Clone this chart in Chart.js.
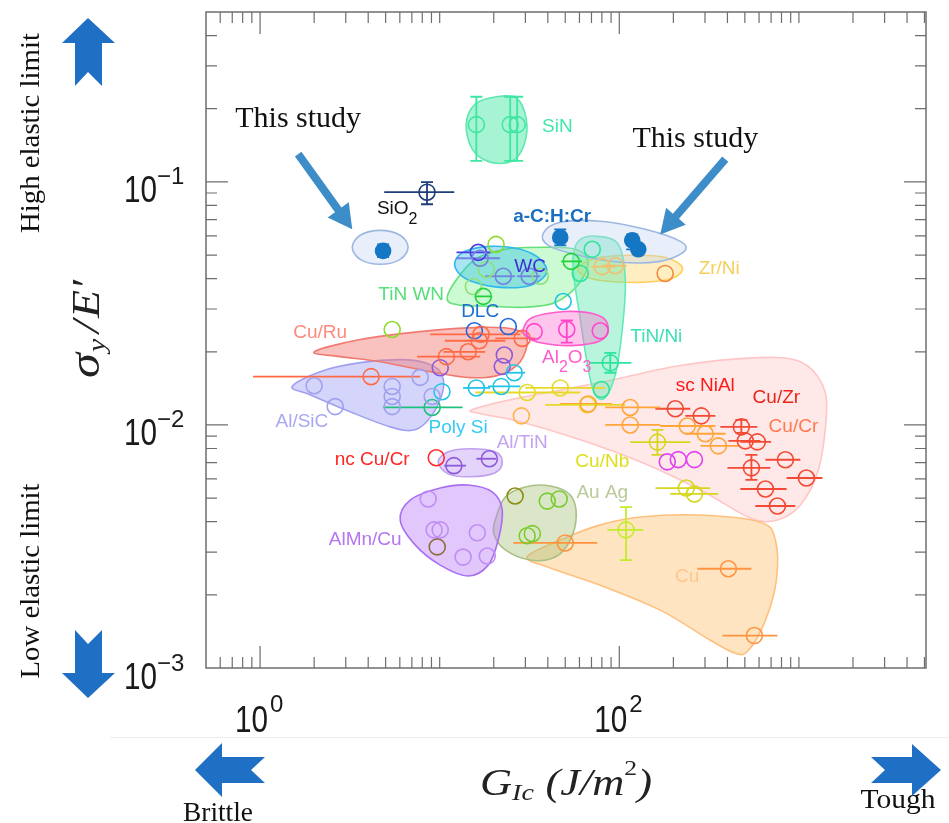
<!DOCTYPE html>
<html>
<head>
<meta charset="utf-8">
<script src="https://cdn.jsdelivr.net/npm/chart.js@4.4.1/dist/chart.umd.min.js"></script>
<style>
  html, body { margin: 0; padding: 0; background: #fff; }
  canvas { display: block; }
</style>
</head>
<body>
<canvas id="ashby" width="949" height="823"></canvas>
<script>
// rows: [G_Ic (J/m2), sigma_y/E', xLow, xHigh, yLow, yHigh]
const sio2 = [[8.5, 0.0907, 4.91, 12.05, 0.0809, 0.0997]];
const studyLeft = [[4.84, 0.052, null, null, 0.049, 0.0553]];
const studyRight = [[46.9, 0.0591, null, null, 0.0548, 0.0638], [118, 0.0575, null, null, 0.0528, 0.0608], [127.6, 0.0528]];
const siN = [[16.0, 0.172, null, null, 0.122, 0.224], [24.7, 0.172, null, null, 0.122, 0.224], [27.0, 0.172, null, null, 0.122, 0.224]];
const wc = [[16.8, 0.0485, 12.35, 21.7], [22.6, 0.0409, 17.9, 26.3], [31.5, 0.0409, 27.0, 36.3]];
const wcDark = [[16.4, 0.0513, 12.4, 19.1]];
const tinLime = [[20.6, 0.0553], [5.44, 0.0247]];
const tinGreen = [[17.5, 0.0338, 15.8, 19.3], [54.0, 0.0471, 47.5, 62.0]];
const tinLight = [[15.4, 0.0371], [18.2, 0.0436], [36.3, 0.0409]];
const zrNiOrange = [[180, 0.042]];
const zrNiTan = [[80.3, 0.0448, 70, 95], [95, 0.0452, 80, 110]];
const tinNi = [[70.7, 0.0528], [60.6, 0.042], [89.1, 0.018, 68.9, 116.7, 0.0164, 0.0198], [79.4, 0.014]];
const al2o3 = [[33.6, 0.0242], [51.0, 0.0247, null, null, 0.0218, 0.0269], [78.3, 0.0244]];
const cuRu = [[17.0, 0.0236, 8.85, 28.1], [16.6, 0.0222, 10.7, 23.2], [14.4, 0.0200, 10.5, 17.9], [10.9, 0.0191, 7.5, 16.8], [28.8, 0.0227, 20.4, 34.1], [4.15, 0.0158, 0.914, 7.79]];
const dlc = [[15.6, 0.0244], [24.1, 0.0254]];
const alSiC = [[2.0, 0.0145], [2.62, 0.0119], [5.44, 0.0144], [5.44, 0.0131], [5.44, 0.0119], [7.79, 0.0157], [9.08, 0.0131]];
const polySi = [[10.3, 0.0137], [16.0, 0.0142, 13.5, 19.1], [22.0, 0.0144, 18.6, 28.1], [26.0, 0.0164, 23.2, 29.9], [48.7, 0.0322]];
const tealPt = [[9.08, 0.0118, 4.84, 13.4]];
const alTiN = [[10.07, 0.0172], [22.3, 0.0174], [22.9, 0.0194], [12.0, 0.0068, 10.6, 14.0], [18.9, 0.00726, 16.0, 20.6]];
const ncCuCr = [[9.57, 0.00733]];
const alMnCu = [[8.63, 0.00496], [9.31, 0.0037], [10.07, 0.0037], [16.2, 0.0036], [13.5, 0.00286], [18.4, 0.00289]];
const alMnBrown = [[9.69, 0.00315]];
const auOlive = [[26.3, 0.0051]];
const auAg = [[39.7, 0.00486], [46.3, 0.00496], [30.7, 0.0035], [32.8, 0.00357]];
const cu = [[50, 0.00327, 25.7, 75.4], [405, 0.00256, 272, 544], [565, 0.00136, 375, 759]];
const cuLime = [[109, 0.0037, 85.8, 136, 0.00278, 0.00459]];
const cuZr = [[205, 0.01166, 158.7, 248.6], [286, 0.0109, 233, 343], [478, 0.00982, 365, 587, 0.00928, 0.0105], [503, 0.0086, 405, 610],
  [587, 0.00852, 472, 700], [841, 0.00719, 651, 1019], [544, 0.00666, 400, 693, 0.00594, 0.00753], [651, 0.00545, 472, 854],
  [759, 0.00464, 572, 955], [1101, 0.00605, 854, 1352]];
const cuCr = [[115, 0.0118, 83.5, 169], [115, 0.0100, 83.5, 169], [239, 0.0099, 169, 343], [301, 0.0092, 233, 390], [356, 0.0082, 283, 472], [67.2, 0.0122, 46.9, 91.4]];
const cuCrLight = [[28.5, 0.0109]];
const cuYellow = [[46.9, 0.0142, 30, 83.5], [30.7, 0.0136, 15.8, 60.6], [66.4, 0.0121, 38.7, 108]];
const cuNb = [[163, 0.0085, 115, 249, 0.00753, 0.00955], [236, 0.0055, 159, 321], [262, 0.0052, 192, 356]];
const niAl = [[213, 0.0072], [262, 0.0072], [185, 0.00705]];

// material zones: outline vertices [G_Ic, sigma_y/E']
const zoneBig = [[15.17, 0.01155], [28.09, 0.01295], [78.34, 0.01494], [218.8, 0.01755], [587.3, 0.01892], [1019, 0.0182], [1352, 0.01465], [1423, 0.0110],
  [1285, 0.00654], [1019, 0.00468], [758.6, 0.00406], [536.8, 0.00414], [282.7, 0.0054], [130.9, 0.00705], [60.64, 0.00869], [28.09, 0.0103], [17.24, 0.0111]];
const zoneCu = [[30.72, 0.00286], [46.92, 0.00336], [78.34, 0.00388], [130.9, 0.00418], [282.7, 0.00426], [610.2, 0.00398], [739.4, 0.00336], [749, 0.0023],
  [650.6, 0.00157], [523, 0.00118], [443, 0.00115], [321.4, 0.0013], [169.2, 0.00173], [78.34, 0.00219], [41.27, 0.00258]];
const zoneAuAg = [[20.37, 0.00406], [23.18, 0.00505], [29.95, 0.00556], [41.27, 0.00561], [53.33, 0.00515], [57.6, 0.00426], [53.33, 0.00336], [44.0, 0.00286], [31.93, 0.00278], [23.18, 0.00306], [20.1, 0.00353]];
const zoneAlMnCu = [[6.03, 0.00406], [6.85, 0.00491], [10.07, 0.0055], [14.41, 0.00566], [19.61, 0.0053], [22.3, 0.00447], [21.18, 0.00336], [18.63, 0.00265], [14.41, 0.00239], [10.07, 0.00265], [7.30, 0.00321]];
const zoneAlTiN = [[9.81, 0.00705], [11.15, 0.00775], [14.79, 0.00798], [20.37, 0.00775], [22.3, 0.00705], [20.37, 0.00636], [14.79, 0.00612], [11.15, 0.00629]];
const zoneAlSiC = [[1.508, 0.01437], [2.16, 0.01657], [3.607, 0.01804], [6.03, 0.01857], [8.30, 0.01804], [10.07, 0.01657], [10.46, 0.01397], [9.08, 0.011], [7.30, 0.00955], [5.30, 0.00982], [3.173, 0.01133], [1.899, 0.01332]];
const zoneCuRu = [[2.0, 0.02], [3.607, 0.02245], [7.79, 0.0242], [16.81, 0.0252], [26.34, 0.0247], [30.72, 0.02245], [28.09, 0.0182], [21.73, 0.0161], [14.79, 0.01565], [8.85, 0.01657], [4.66, 0.0182], [2.791, 0.0191]];
const zoneTiNWN = [[11.01, 0.0328], [12.19, 0.0389], [15.77, 0.048], [23.18, 0.0528], [38.71, 0.0538], [56.9, 0.0528], [67.2, 0.0471], [59.1, 0.0378], [44.0, 0.0319], [29.95, 0.0305], [19.11, 0.0308], [13.01, 0.0311]];
const zoneWC = [[12.19, 0.0471], [13.87, 0.0518], [19.11, 0.0543], [28.09, 0.0528], [36.31, 0.048], [39.22, 0.042], [31.93, 0.0375], [21.73, 0.0368], [15.17, 0.0389], [12.67, 0.0424]];
const zoneTiNNi = [[55.4, 0.0503], [60.64, 0.058], [76.3, 0.0597], [98.7, 0.0553], [108, 0.0397], [103.9, 0.0247], [95, 0.0161], [83.5, 0.01295], [73.5, 0.0133], [67.2, 0.01689], [60.64, 0.0272], [56.1, 0.0397]];
const zoneAl2O3 = [[29.19, 0.0247], [32.76, 0.0277], [50.0, 0.0293], [76.3, 0.0283], [86.8, 0.0252], [78.34, 0.0222], [53.33, 0.0212], [36.31, 0.0218], [30.72, 0.0229]];
const zoneZrNi = [[59.1, 0.0444], [73.5, 0.0485], [115.2, 0.0499], [180.4, 0.0489], [224.5, 0.0444], [197.3, 0.0401], [130.9, 0.0386], [78.3, 0.0393], [63.0, 0.0413]];
const zoneSiN = [[14.05, 0.1731], [15.77, 0.2091], [20.37, 0.2235], [26.69, 0.2214], [30.34, 0.1815], [29.57, 0.143], [25.35, 0.1218], [19.11, 0.1206], [15.17, 0.1364]];
const zoneStudyA = [[3.26, 0.0538], [3.61, 0.0603], [4.66, 0.0632], [6.03, 0.0603], [6.67, 0.0538], [6.03, 0.048], [4.66, 0.0458], [3.61, 0.048]];
const zoneStudyB = [[37.7, 0.0614], [46.9, 0.0682], [78.3, 0.0689], [139.5, 0.0638], [218.8, 0.0569], [230, 0.0518], [169, 0.0471], [101, 0.0467], [56.9, 0.0503], [40.2, 0.0548]];

// tick labels
const xTickLabels = [1, 100];
const yTickLabels = [0.1, 0.01, 0.001];

// material names, anchored at [G_Ic, sigma_y/E']
const materialNames = ['SiO_2', 'SiN', 'a-C:H:Cr', 'WC', 'TiN WN', 'Zr/Ni', 'DLC', 'Cu/Ru', 'TiN/Ni', 'Al_2O_3', 'sc NiAl', 'Cu/Zr', 'Cu/Cr',
  'Al/SiC', 'Poly Si', 'Al/TiN', 'nc Cu/Cr', 'Cu/Nb', 'Au Ag', 'AlMn/Cu', 'Cu'];
const nameAnchors = [[5.8, 0.0772], [45.2, 0.168], [42.3, 0.0722], [31.9, 0.0449], [6.94, 0.0344], [360, 0.044], [16.8, 0.0291], [2.16, 0.024],
  [160.7, 0.0231], [51, 0.0189], [301, 0.01452], [749, 0.01295], [932, 0.00982], [1.71, 0.0103], [12.67, 0.00973], [28.8, 0.00844],
  [4.21, 0.00719], [80.4, 0.00705], [80.4, 0.00525], [3.85, 0.00336], [239, 0.00237]];
const nameColors = ['#111111', '#44e6aa', '#1a6fc0', '#3f2fd8', '#55e07a', '#f5cf5c', '#1a6fd0', '#ff8a7c', '#3fe0b5', '#ff5ccc', '#ff1a1a', '#e82418', '#ff7a50',
  '#a8a8f2', '#33ccf0', '#c4a4f2', '#ff2626', '#dede1c', '#b8ca98', '#b574f2', '#ffc690'];

// "This study" callouts: text anchor, arrow tail, arrow tip
const studyNotes = [
  { at: [1.63, 0.168], tail: [1.63, 0.130], tip: [3.26, 0.0638] },
  { at: [265, 0.139], tail: [389, 0.1241], tip: [169, 0.0608] }
];

const zones = [
  { pts: zoneBig, fill: 'rgba(255,190,190,0.35)', stroke: '#ffc6c6' },
  { pts: zoneCu, fill: 'rgba(255,190,110,0.42)', stroke: '#ffc07e' },
  { pts: zoneAuAg, fill: 'rgba(160,190,110,0.38)', stroke: '#a8c084' },
  { pts: zoneAlMnCu, fill: 'rgba(190,130,250,0.45)', stroke: '#a870f0' },
  { pts: zoneAlTiN, fill: 'rgba(190,150,245,0.42)', stroke: '#c0a0f0' },
  { pts: zoneAlSiC, fill: 'rgba(150,150,245,0.40)', stroke: '#a0a0f0' },
  { pts: zoneCuRu, fill: 'rgba(245,120,110,0.45)', stroke: '#f07a72' },
  { pts: zoneTiNWN, fill: 'rgba(110,240,130,0.35)', stroke: '#66e07a' },
  { pts: zoneWC, fill: 'rgba(40,190,230,0.40)', stroke: '#30b8ec' },
  { pts: zoneZrNi, fill: 'rgba(255,215,110,0.42)', stroke: '#ffd060' },
  { pts: zoneTiNNi, fill: 'rgba(80,230,170,0.40)', stroke: '#66e8b8' },
  { pts: zoneAl2O3, fill: 'rgba(255,110,210,0.40)', stroke: '#ff5ccc' },
  { pts: zoneSiN, fill: 'rgba(60,230,160,0.45)', stroke: '#5ee8b0' },
  { pts: zoneStudyA, fill: 'rgba(190,210,240,0.35)', stroke: '#9db8e0' },
  { pts: zoneStudyB, fill: 'rgba(190,210,240,0.35)', stroke: '#9db8e0' }
];

const pointSeries = [
  { rows: studyLeft, color: '#1577c4', filled: true, r: 7.5 },
  { rows: studyRight, color: '#1577c4', filled: true, r: 7.5 },
  { rows: sio2, color: '#1f3d7a' },
  { rows: siN, color: '#3ee6a2' },
  { rows: wc, color: '#7482e0' },
  { rows: wcDark, color: '#4a3ae0' },
  { rows: tinLime, color: '#8ddc2a' },
  { rows: tinGreen, color: '#22d23a' },
  { rows: tinLight, color: '#8fe07a' },
  { rows: zrNiOrange, color: '#f08a40' },
  { rows: zrNiTan, color: '#f0c070' },
  { rows: tinNi, color: '#2ee39a' },
  { rows: al2o3, color: '#ff44cc' },
  { rows: cuRu, color: '#ff6a45' },
  { rows: dlc, color: '#2266dd' },
  { rows: alSiC, color: '#a0a0ee' },
  { rows: polySi, color: '#22c4e6' },
  { rows: tealPt, color: '#20c080' },
  { rows: alTiN, color: '#8c5ad8' },
  { rows: ncCuCr, color: '#ff2a2a' },
  { rows: alMnCu, color: '#c08ef2' },
  { rows: alMnBrown, color: '#8b6b40' },
  { rows: auOlive, color: '#8c8c14' },
  { rows: auAg, color: '#78cc30' },
  { rows: cu, color: '#ff9440' },
  { rows: cuLime, color: '#c4ec2c' },
  { rows: cuZr, color: '#f24a35' },
  { rows: cuCr, color: '#ffa53a' },
  { rows: cuCrLight, color: '#ffb347' },
  { rows: cuYellow, color: '#e6da28' },
  { rows: cuNb, color: '#d6d61e' },
  { rows: niAl, color: '#e040f0' }
];

const datasets = zones.map(z => ({
  data: z.pts.map(p => ({ x: p[0], y: p[1] })),
  zone: z,
  pointRadius: 0,
  showLine: false
})).concat(pointSeries.map(s => ({
  data: s.rows.map(r => ({ x: r[0], y: r[1] })),
  rows: s.rows,
  errColor: s.color,
  pointRadius: s.r || 8,
  pointBorderWidth: 1.6,
  pointBorderColor: s.color,
  pointBackgroundColor: s.filled ? s.color : 'rgba(0,0,0,0)',
  showLine: false
})));

// closed smooth curve through pixel points
function closedCurve(ctx, p) {
  const n = p.length;
  ctx.moveTo(p[0].x, p[0].y);
  for (let i = 0; i < n; i++) {
    const p0 = p[(i - 1 + n) % n], p1 = p[i], p2 = p[(i + 1) % n], p3 = p[(i + 2) % n];
    ctx.bezierCurveTo(p1.x + (p2.x - p0.x) / 6, p1.y + (p2.y - p0.y) / 6,
      p2.x - (p3.x - p1.x) / 6, p2.y - (p3.y - p1.y) / 6, p2.x, p2.y);
  }
  ctx.closePath();
}

function polygon(ctx, pts, color) {
  ctx.beginPath();
  pts.forEach((p, i) => i ? ctx.lineTo(p[0], p[1]) : ctx.moveTo(p[0], p[1]));
  ctx.closePath();
  ctx.fillStyle = color;
  ctx.fill();
}

// draws pieces [{t, font, dy, gap}] in a row, stretched to a width if given
function drawRow(ctx, parts, x, y, align, width) {
  let total = 0;
  parts.forEach(p => { ctx.font = p.font; p.w = ctx.measureText(p.t).width; total += p.w + (p.gap || 0); });
  const k = width ? width / total : 1;
  ctx.save();
  ctx.translate(x, y);
  ctx.scale(k, 1);
  let cx = align === 'center' ? -total / 2 : (align === 'right' ? -total : 0);
  ctx.textAlign = 'left';
  parts.forEach(p => {
    ctx.font = p.font;
    ctx.fillText(p.t, cx, p.dy || 0);
    cx += p.w + (p.gap || 0);
  });
  ctx.restore();
}

function nameParts(str, bold) {
  const base = (bold ? 'bold ' : '') + '19px "Liberation Sans", Arial, sans-serif';
  const sub = '16px "Liberation Sans", Arial, sans-serif';
  const parts = [];
  let buf = '';
  for (let i = 0; i < str.length; i++) {
    if (str[i] === '_') {
      if (buf) parts.push({ t: buf, font: base });
      buf = '';
      parts.push({ t: str[i + 1], font: sub, dy: 10 });
      i++;
    } else buf += str[i];
  }
  if (buf) parts.push({ t: buf, font: base });
  return parts;
}

const zonePlugin = {
  id: 'zones',
  beforeDatasetsDraw(chart) {
    const ctx = chart.ctx, ca = chart.chartArea;
    const xs = chart.scales.x, ys = chart.scales.y;
    ctx.save();
    ctx.beginPath();
    ctx.rect(ca.left, ca.top, ca.right - ca.left, ca.bottom - ca.top);
    ctx.clip();
    chart.data.datasets.forEach((ds, i) => {
      if (!ds.zone) return;
      const pts = chart.getDatasetMeta(i).data.map(e => ({ x: e.x, y: e.y }));
      ctx.beginPath();
      closedCurve(ctx, pts);
      ctx.fillStyle = ds.zone.fill;
      ctx.fill();
      ctx.lineWidth = 1.6;
      ctx.strokeStyle = ds.zone.stroke;
      ctx.stroke();
    });
    // error bars
    chart.data.datasets.forEach(ds => {
      if (!ds.rows) return;
      ctx.strokeStyle = ds.errColor;
      ctx.lineWidth = 1.8;
      ds.rows.forEach(r => {
        const px = xs.getPixelForValue(r[0]), py = ys.getPixelForValue(r[1]);
        ctx.beginPath();
        if (r[2] != null) {
          ctx.moveTo(xs.getPixelForValue(r[2]), py);
          ctx.lineTo(xs.getPixelForValue(r[3]), py);
        }
        if (r[4] != null) {
          const y1 = ys.getPixelForValue(r[4]), y2 = ys.getPixelForValue(r[5]);
          ctx.moveTo(px, y1); ctx.lineTo(px, y2);
          ctx.moveTo(px - 6, y1); ctx.lineTo(px + 6, y1);
          ctx.moveTo(px - 6, y2); ctx.lineTo(px + 6, y2);
        }
        ctx.stroke();
      });
    });
    ctx.restore();
  }
};

const framePlugin = {
  id: 'frame',
  beforeDraw(chart) {
    const ctx = chart.ctx;
    ctx.save();
    ctx.fillStyle = '#fff';
    ctx.fillRect(0, 0, chart.width, chart.height);
    ctx.restore();
  },
  afterDatasetsDraw(chart) {
    const ctx = chart.ctx, ca = chart.chartArea;
    const xs = chart.scales.x, ys = chart.scales.y;
    ctx.save();

    // names of material classes
    ctx.textBaseline = 'middle';
    materialNames.forEach((name, i) => {
      const a = nameAnchors[i];
      ctx.fillStyle = nameColors[i];
      drawRow(ctx, nameParts(name, name === 'a-C:H:Cr'), xs.getPixelForValue(a[0]), ys.getPixelForValue(a[1]), 'center');
    });

    // "This study" callouts
    ctx.textBaseline = 'alphabetic';
    studyNotes.forEach(n => {
      ctx.fillStyle = '#111';
      ctx.font = '30px "Liberation Serif", "Times New Roman", serif';
      ctx.textAlign = 'center';
      ctx.fillText('This study', xs.getPixelForValue(n.at[0]), ys.getPixelForValue(n.at[1]));
      const x1 = xs.getPixelForValue(n.tail[0]), y1 = ys.getPixelForValue(n.tail[1]);
      const x2 = xs.getPixelForValue(n.tip[0]), y2 = ys.getPixelForValue(n.tip[1]);
      const ang = Math.atan2(y2 - y1, x2 - x1), len = Math.hypot(x2 - x1, y2 - y1);
      ctx.save();
      ctx.translate(x1, y1);
      ctx.rotate(ang);
      polygon(ctx, [[0, -4], [len - 24, -4], [len - 24, -13], [len, 0], [len - 24, 13], [len - 24, 4], [0, 4]], '#3d8dc9');
      ctx.restore();
    });

    // frame and inward ticks
    ctx.strokeStyle = '#6e6e6e';
    ctx.lineWidth = 1.5;
    ctx.strokeRect(ca.left, ca.top, ca.right - ca.left, ca.bottom - ca.top);
    ctx.lineWidth = 1.2;
    ctx.beginPath();
    for (let k = -1; k <= 3; k++) {
      for (let m = 1; m <= 9; m++) {
        const v = m * Math.pow(10, k);
        const px = xs.getPixelForValue(v);
        if (px <= ca.left + 1 || px >= ca.right - 1) continue;
        const len = (m === 1 && (k === 0 || k === 2)) ? 22 : 11;
        ctx.moveTo(px, ca.bottom); ctx.lineTo(px, ca.bottom - len);
        ctx.moveTo(px, ca.top); ctx.lineTo(px, ca.top + len);
      }
    }
    for (let k = -3; k <= -1; k++) {
      for (let m = 1; m <= 9; m++) {
        const v = m * Math.pow(10, k);
        const py = ys.getPixelForValue(v);
        if (py <= ca.top + 1 || py >= ca.bottom - 1) continue;
        const len = (m === 1 && (k === -1 || k === -2)) ? 22 : 11;
        ctx.moveTo(ca.left, py); ctx.lineTo(ca.left + len, py);
        ctx.moveTo(ca.right, py); ctx.lineTo(ca.right - len, py);
      }
    }
    ctx.stroke();

    // tick labels
    ctx.fillStyle = '#1a1a1a';
    ctx.textBaseline = 'alphabetic';
    yTickLabels.forEach(v => {
      const py = ys.getPixelForValue(v);
      const e = Math.round(Math.log10(v));
      drawRow(ctx, [{ t: '10', font: '37px "Liberation Sans", Arial, sans-serif' }], ca.left - 49, py + 20.5, 'right', 33);
      drawRow(ctx, [{ t: '\u2212' + Math.abs(e), font: '24px "Liberation Sans", Arial, sans-serif' }], ca.left - 49, py + 2.5, 'left');
    });
    xTickLabels.forEach(v => {
      const px = xs.getPixelForValue(v);
      const e = Math.round(Math.log10(v));
      drawRow(ctx, [{ t: '10', font: '37px "Liberation Sans", Arial, sans-serif' }], px + 8, ca.bottom + 64, 'right', 33);
      drawRow(ctx, [{ t: String(e), font: '24px "Liberation Sans", Arial, sans-serif' }], px + 10, ca.bottom + 44, 'left');
    });

    // faint separator under the tick labels
    ctx.strokeStyle = '#eeeeee';
    ctx.lineWidth = 1;
    ctx.beginPath();
    ctx.moveTo(110, ca.bottom + 69.5); ctx.lineTo(chart.width, ca.bottom + 69.5);
    ctx.stroke();

    // axis titles
    const it = 'italic 38px "Liberation Serif", "Times New Roman", serif';
    const itSmall = 'italic 24px "Liberation Serif", "Times New Roman", serif';
    ctx.fillStyle = '#222';
    drawRow(ctx, [
      { t: 'G', font: it },
      { t: 'Ic', font: itSmall, dy: 5, gap: 10 },
      { t: '(J/m', font: it },
      { t: '2', font: '22px "Liberation Serif", serif', dy: -20 },
      { t: ')', font: it }
    ], 480, ca.bottom + 127, 'left', 172);

    ctx.save();
    ctx.translate(99, 329);
    ctx.rotate(-Math.PI / 2);
    drawRow(ctx, [
      { t: '\u03c3', font: 'italic 44px "Liberation Serif", serif', gap: 1 },
      { t: 'y', font: 'italic 26px "Liberation Serif", serif', dy: 6, gap: 5 },
      { t: '/', font: 'italic 40px "Liberation Serif", serif', gap: 2 },
      { t: 'E\u2032', font: 'italic 40px "Liberation Serif", serif' }
    ], 0, 0, 'center', 98);
    ctx.restore();

    // side hints
    const serif27 = '27px "Liberation Serif", "Times New Roman", serif';
    ctx.fillStyle = '#111';
    [['High elastic limit', 133, 200], ['Low elastic limit', 581, 195]].forEach(h => {
      ctx.save();
      ctx.translate(39, h[1]);
      ctx.rotate(-Math.PI / 2);
      drawRow(ctx, [{ t: h[0], font: serif27 }], 0, 0, 'center', h[2]);
      ctx.restore();
    });
    drawRow(ctx, [{ t: 'Brittle', font: serif27 }], 218, 821, 'center', 70);
    drawRow(ctx, [{ t: 'Tough', font: '28px "Liberation Serif", "Times New Roman", serif' }], 898, 808, 'center', 75);

    // block arrows
    const blue = '#1f6fc4';
    polygon(ctx, [[88, 18], [115, 43], [102, 43], [102, 86], [88, 72], [75, 86], [75, 43], [62, 43]], blue);
    polygon(ctx, [[75, 630], [88, 644], [102, 630], [102, 673], [115, 673], [88, 698], [62, 673], [75, 673]], blue);
    polygon(ctx, [[195, 770], [222, 743], [222, 757], [265, 757], [251, 770], [265, 783], [222, 783], [222, 797]], blue);
    polygon(ctx, [[941, 770], [912, 744], [912, 757], [871, 757], [885, 770], [871, 783], [912, 783], [912, 796]], blue);

    ctx.restore();
  }
};

new Chart(document.getElementById('ashby').getContext('2d'), {
  type: 'scatter',
  data: { datasets: datasets },
  options: {
    responsive: false,
    animation: false,
    events: [],
    devicePixelRatio: 1,
    layout: { padding: { left: 206, top: 12, right: 23, bottom: 155 } },
    scales: {
      x: { type: 'logarithmic', min: 0.5, max: 5100, display: false },
      y: { type: 'logarithmic', min: 0.001, max: 0.5, display: false }
    },
    plugins: {
      legend: { display: false },
      tooltip: { enabled: false }
    }
  },
  plugins: [zonePlugin, framePlugin]
});
</script>
</body>
</html>
